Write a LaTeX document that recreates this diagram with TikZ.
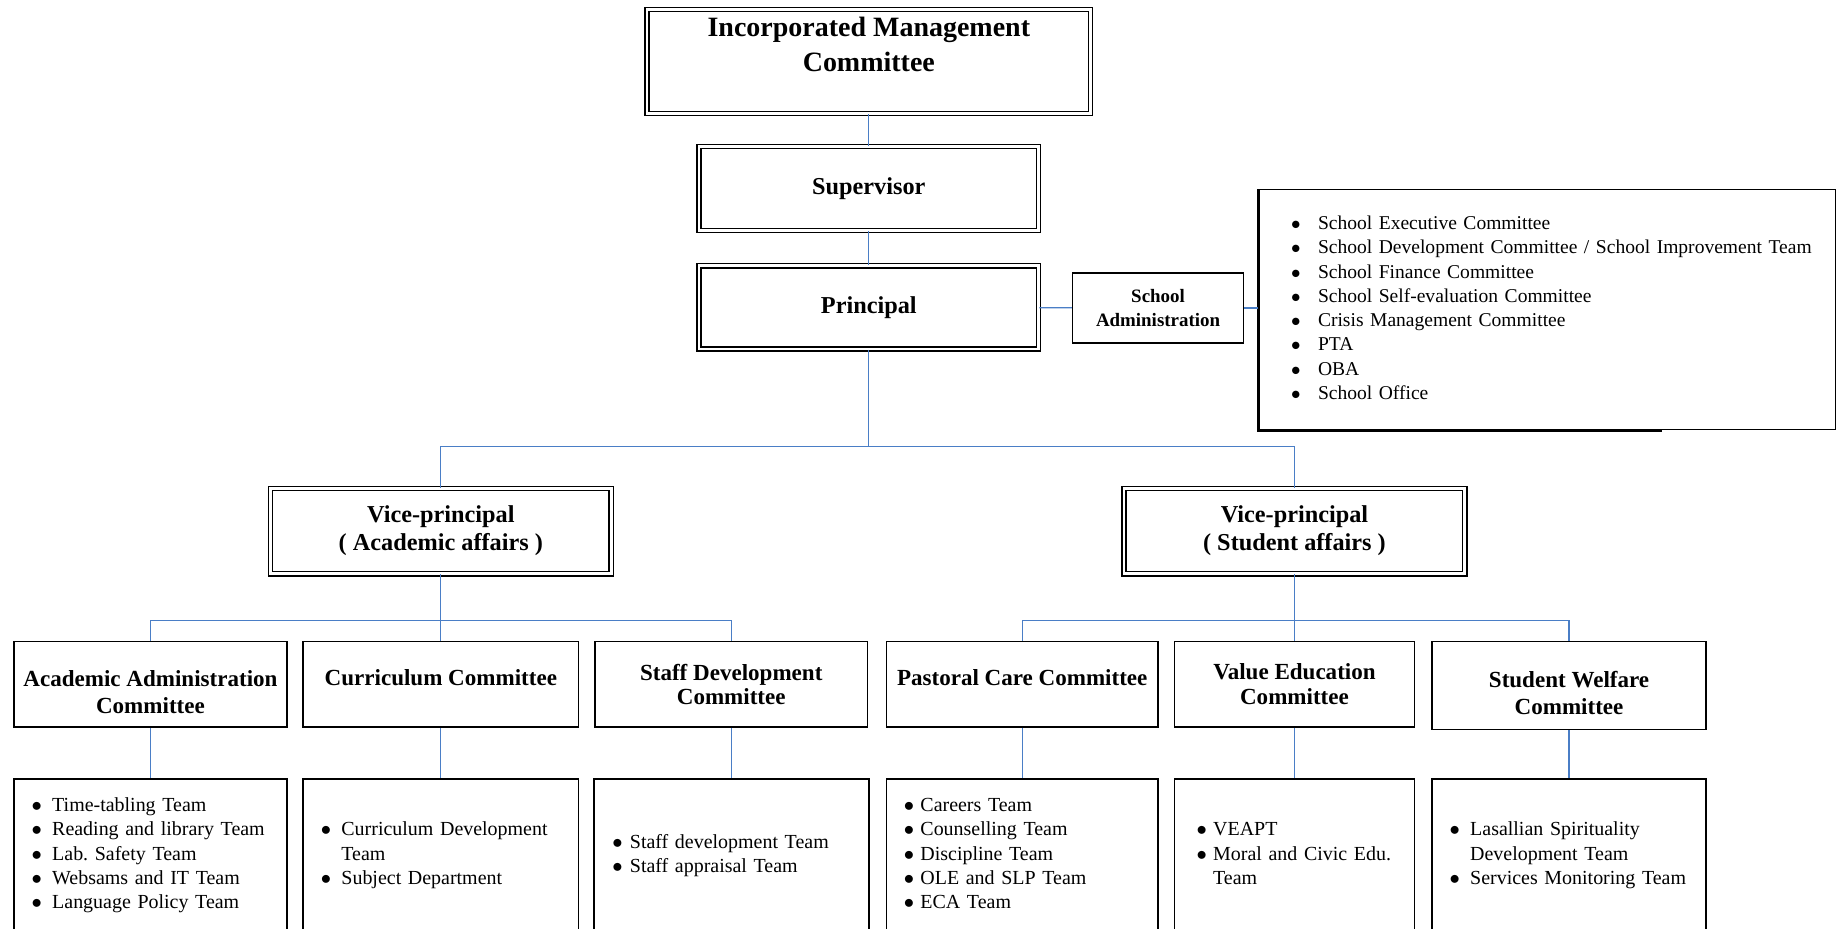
\documentclass[tikz,border=0pt]{standalone}
\usepackage{fontspec}
\setmainfont{Liberation Serif}
\usepackage{xcolor}

\definecolor{linkblue}{RGB}{74,126,198}
\newcommand{\bul}{$\bullet$}
\newcommand{\teams}[2][5pt]{\begin{tabular}{@{}l@{\hspace{#1}}l@{}}#2\end{tabular}}

\begin{document}
\begin{tikzpicture}[x=0.02cm, y=-0.02cm,
    dbox/.style={draw, double, double distance=1.3pt, line width=0.7pt, align=center, inner sep=1pt,
                 font=\bfseries\fontsize{11.8}{13.7}\selectfont},
    cbox/.style={draw, line width=0.8pt, align=center, inner sep=1pt, minimum height=1.46cm,
                 font=\bfseries\fontsize{11.2}{13.3}\selectfont},
    lbox/.style={draw, line width=0.8pt, align=left, minimum height=2.62cm, inner xsep=0.3cm,
                 font=\fontsize{9.7}{11.8}\selectfont},
    link/.style={linkblue, line width=0.6pt}]
    \clip (0,0) rectangle (1568,793);

    \node[dbox, minimum width=7.58cm, minimum height=1.78cm, font=\bfseries\fontsize{13.6}{17}\selectfont] (imc) at (742,52.5) {Incorporated Management\\Committee\\\mbox{}};
    \node[dbox, minimum width=5.8cm, minimum height=1.44cm] (sup) at (742,161) {Supervisor};
    \node[dbox, minimum width=5.8cm, minimum height=1.42cm] (pri) at (742,262.5) {Principal};
    \node[draw, line width=0.8pt, minimum width=2.92cm, minimum height=1.2cm, align=center, font=\bfseries\fontsize{9.2}{11.4}\selectfont] (sadm) at (989,263) {School\\Administration};
    \node[draw, line width=0.5pt, minimum height=4.1cm, inner xsep=0.55cm, text width=8.76cm, align=left, font=\fontsize{9.5}{11.8}\selectfont] (slist) at (1321.5,264.5) {\makebox[0pt][l]{\teams[8.5pt]{\bul & School Executive Committee\\
        \bul & School Development Committee / School Improvement Team\\
        \bul & School Finance Committee\\
        \bul & School Self-evaluation Committee\\
        \bul & Crisis Management Committee\\
        \bul & PTA\\
        \bul & OBA\\
        \bul & School Office}}};
    \draw[line width=1.5pt] (slist.north west) -- (slist.south west) -- ++(345,0);

    \node[dbox, minimum width=5.82cm, minimum height=1.46cm] (vpa) at (376.5,453.5) {Vice-principal\\( Academic affairs )};
    \node[dbox, minimum width=5.82cm, minimum height=1.46cm] (vps) at (1105.5,453.5) {Vice-principal\\( Student affairs )};

    \node[cbox, minimum width=4.66cm] (aac) at (128.5,584.5) {\rule{0pt}{15pt}Academic Administration\\Committee};
    \node[cbox, minimum width=4.70cm] (cur) at (376.5,584.5) {Curriculum Committee\rule[-7pt]{0pt}{7pt}};
    \node[cbox, minimum width=4.66cm] (sdc) at (624.5,584.5) {Staff Development\\[-1.3pt]Committee};
    \node[cbox, minimum width=4.64cm] (pcc) at (873,584.5) {Pastoral Care Committee\rule[-7pt]{0pt}{7pt}};
    \node[cbox, minimum width=4.10cm] (vec) at (1105.5,584.5) {Value Education\\[-1.3pt]Committee};
    \node[cbox, minimum width=4.68cm, minimum height=1.5cm] (swc) at (1340,585.5) {\rule{0pt}{15pt}Student Welfare\\Committee};

    \node[lbox, text width=4.06cm] (aac-teams) at (128.5,730.5) {\teams{\bul & Time-tabling Team\\
        \bul & Reading and library Team\\
        \bul & Lab.\ Safety Team\\
        \bul & Websams and IT Team\\
        \bul & Language Policy Team}};
    \node[lbox, text width=4.10cm] (cur-teams) at (376.5,730.5) {\teams{\bul & Curriculum Development\\
        & Team\\
        \bul & Subject Department}};
    \node[lbox, text width=4.06cm, inner xsep=0.32cm] (sdc-teams) at (624.5,730.5) {\teams[3.5pt]{\bul & Staff development Team\\
        \bul & Staff appraisal Team}};
    \node[lbox, text width=4.04cm] (pcc-teams) at (873,730.5) {\teams[3pt]{\bul & Careers Team\\
        \bul & Counselling Team\\
        \bul & Discipline Team\\
        \bul & OLE and SLP Team\\
        \bul & ECA Team}};
    \node[lbox, text width=3.34cm, inner xsep=0.38cm] (vec-teams) at (1105.5,730.5) {\teams[3pt]{\bul & VEAPT\\
        \bul & Moral and Civic Edu.\\
        & Team}};
    \node[lbox, text width=4.08cm] (swc-teams) at (1340,730.5) {\teams{\bul & Lasallian Spirituality\\
        & Development Team\\
        \bul & Services Monitoring Team}};

    \coordinate (bus) at (742,381);
    \coordinate (abus) at (376.5,530);
    \coordinate (sbus) at (1105.5,530);

    \draw[link] (imc) -- (sup);
    \draw[link] (sup) -- (pri);
    \draw[link] (pri) -- (sadm);
    \draw[link] (sadm) -- (sadm -| slist.west);
    \draw[link] (pri) -- (bus) -| (vpa);
    \draw[link] (bus) -| (vps);
    \draw[link] (vpa) -- (abus) -| (aac);
    \draw[link] (abus) -| (sdc);
    \draw[link] (abus) -- (cur);
    \draw[link] (vps) -- (sbus) -| (pcc);
    \draw[link] (sbus) -| (swc);
    \draw[link] (sbus) -- (vec);
    \foreach \c in {aac,cur,sdc,pcc,vec,swc}
        \draw[link] (\c) -- (\c-teams);
\end{tikzpicture}
\end{document}
